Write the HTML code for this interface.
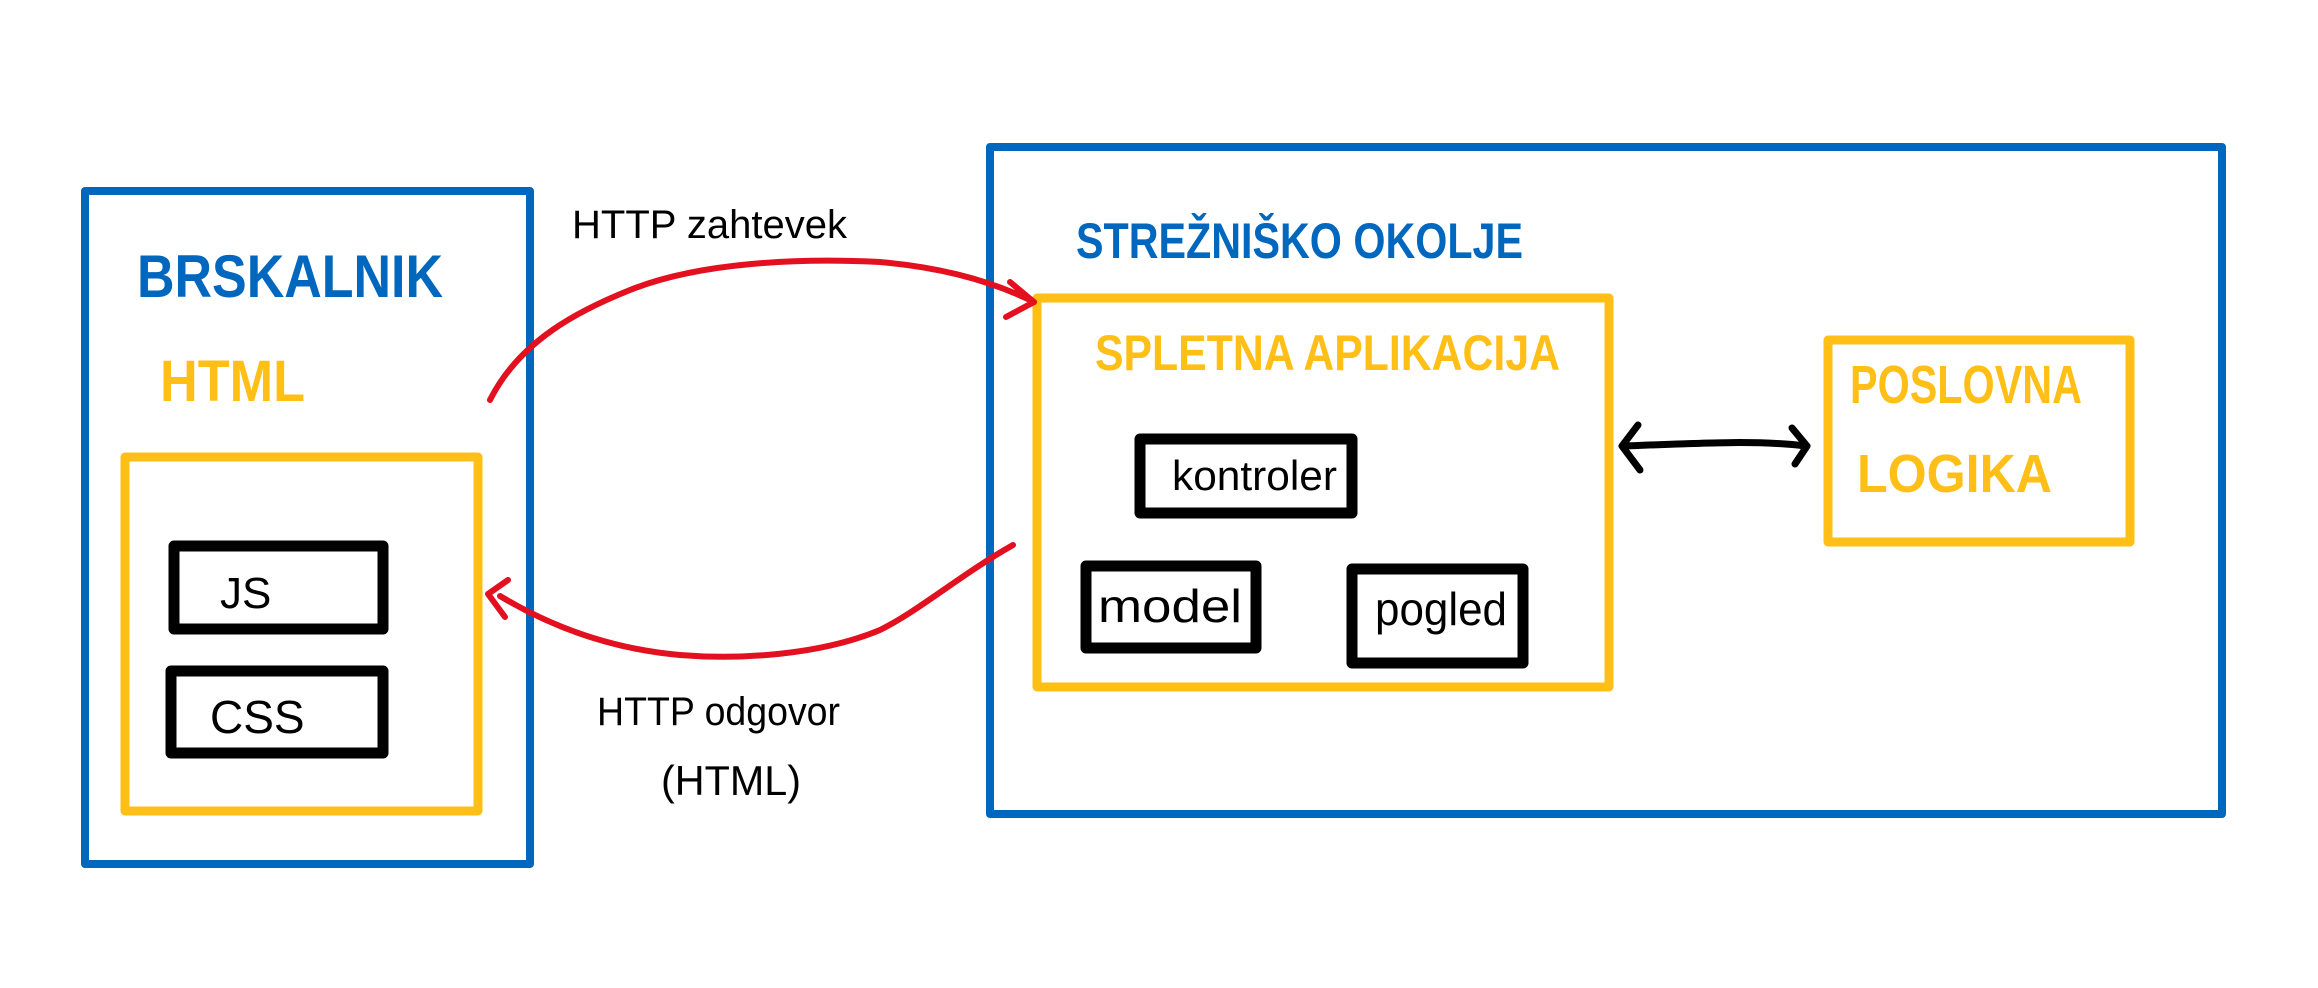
<!DOCTYPE html>
<html><head><meta charset="utf-8"><style>
html,body{margin:0;padding:0;background:#fff;}
svg{display:block}
text{font-family:"Liberation Sans Narrow","Liberation Sans",sans-serif;}
</style></head><body>
<svg width="2318" height="988" viewBox="0 0 2318 988" xmlns="http://www.w3.org/2000/svg">
<rect width="2318" height="988" fill="#fff"/>
<g fill="none" stroke-linecap="round" stroke-linejoin="round">
<rect x="85" y="191" width="445" height="673" stroke="#0067BE" stroke-width="8"/>
<rect x="125" y="457" width="353" height="354" stroke="#FFBF16" stroke-width="9"/>
<rect x="174" y="546" width="209" height="83" stroke="#000" stroke-width="11"/>
<rect x="171" y="671" width="212" height="82" stroke="#000" stroke-width="11"/>
<rect x="990" y="147" width="1232" height="667" stroke="#0067BE" stroke-width="8"/>
<rect x="1037" y="298" width="572" height="389" stroke="#FFBF16" stroke-width="9"/>
<rect x="1140" y="439" width="212" height="74" stroke="#000" stroke-width="11"/>
<rect x="1086" y="566" width="170" height="82" stroke="#000" stroke-width="11"/>
<rect x="1352" y="569" width="171" height="94" stroke="#000" stroke-width="11"/>
<rect x="1828" y="340" width="302" height="202" stroke="#FFBF16" stroke-width="9"/>
<path d="M1625 446 C1700 443 1760 440 1805 446" stroke="#000" stroke-width="7"/>
<path d="M1638 425 L1622 446 L1640 470" stroke="#000" stroke-width="7"/>
<path d="M1792 428 L1807 446 L1795 464" stroke="#000" stroke-width="7"/>
<path d="M490 400 C520 340 580 310 630 290 C700 262 800 258 880 262 C950 268 1000 285 1034 302" stroke="#E3101F" stroke-width="6"/>
<path d="M1010 282 L1034 302 L1006 317" stroke="#E3101F" stroke-width="6"/>
<path d="M1013 545 C960 575 920 610 880 630 C820 655 740 660 680 655 C600 648 540 620 500 596" stroke="#E3101F" stroke-width="6"/>
<path d="M508 580 L488 594 L505 617" stroke="#E3101F" stroke-width="6"/>
</g>
<g font-weight="bold">
<text x="137" y="297" font-size="60" fill="#0067BE" textLength="306" lengthAdjust="spacingAndGlyphs">BRSKALNIK</text>
<text x="160" y="401" font-size="58" fill="#FFBF16" textLength="145" lengthAdjust="spacingAndGlyphs">HTML</text>
<text x="1076" y="258" font-size="50" fill="#0067BE" textLength="447" lengthAdjust="spacingAndGlyphs">STREŽNIŠKO OKOLJE</text>
<text x="1095" y="370" font-size="50" fill="#FFBF16" textLength="465" lengthAdjust="spacingAndGlyphs">SPLETNA APLIKACIJA</text>
<text x="1850" y="403" font-size="54" fill="#FFBF16" textLength="232" lengthAdjust="spacingAndGlyphs">POSLOVNA</text>
<text x="1857" y="492" font-size="54" fill="#FFBF16" textLength="195" lengthAdjust="spacingAndGlyphs">LOGIKA</text>
</g>
<g fill="#000">
<text x="220" y="608" font-size="44">JS</text>
<text x="210" y="733" font-size="46">CSS</text>
<text x="1172" y="490" font-size="42" textLength="165" lengthAdjust="spacingAndGlyphs">kontroler</text>
<text x="1098" y="622" font-size="46" textLength="144" lengthAdjust="spacingAndGlyphs">model</text>
<text x="1375" y="625" font-size="46" textLength="132" lengthAdjust="spacingAndGlyphs">pogled</text>
<text x="572" y="238" font-size="40" textLength="275" lengthAdjust="spacingAndGlyphs">HTTP zahtevek</text>
<text x="597" y="725" font-size="40" textLength="243" lengthAdjust="spacingAndGlyphs">HTTP odgovor</text>
<text x="661" y="795" font-size="42" textLength="140" lengthAdjust="spacingAndGlyphs">(HTML)</text>
</g>
</svg>
</body></html>
